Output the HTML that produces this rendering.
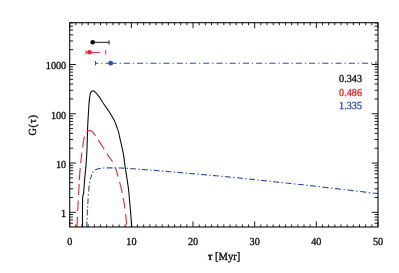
<!DOCTYPE html><html><head><meta charset="utf-8"><style>html,body{margin:0;padding:0;background:#fff;}svg{display:block;text-rendering:geometricPrecision;}.gfx{filter:blur(0.35px);}.tx{filter:blur(0.2px);}svg{font-family:"Liberation Serif",serif;}</style></head><body>
<svg width="399" height="273" viewBox="0 0 399 273">
<rect width="399" height="273" fill="#fff"/>
<g class="gfx"><g fill="none" stroke-linecap="butt" stroke-linejoin="round">
<path d="M82.50,227.00 L82.50,226.61 L82.50,226.17 L82.50,225.66 L82.50,225.10 L82.50,224.50 L82.50,223.85 L82.49,223.17 L82.49,222.44 L82.49,221.69 L82.49,220.92 L82.49,220.12 L82.49,219.31 L82.49,218.49 L82.49,217.66 L82.49,216.83 L82.49,216.00 L82.49,215.18 L82.49,214.37 L82.49,213.57 L82.49,212.80 L82.49,212.05 L82.49,211.33 L82.50,210.65 L82.50,210.00 L82.50,209.37 L82.51,208.75 L82.51,208.12 L82.51,207.50 L82.52,206.88 L82.52,206.26 L82.52,205.64 L82.53,205.04 L82.53,204.44 L82.53,203.84 L82.54,203.26 L82.54,202.69 L82.55,202.13 L82.56,201.58 L82.56,201.04 L82.57,200.52 L82.58,200.01 L82.60,199.52 L82.61,199.05 L82.62,198.60 L82.64,198.17 L82.66,197.76 L82.68,197.37 L82.70,197.00 L82.72,196.67 L82.75,196.38 L82.78,196.13 L82.81,195.92 L82.84,195.73 L82.87,195.58 L82.91,195.45 L82.94,195.33 L82.98,195.24 L83.02,195.15 L83.06,195.07 L83.10,195.00 L83.14,194.93 L83.18,194.85 L83.22,194.76 L83.27,194.67 L83.31,194.55 L83.35,194.42 L83.39,194.27 L83.44,194.08 L83.48,193.87 L83.52,193.62 L83.56,193.33 L83.60,193.00 L83.64,192.63 L83.68,192.24 L83.72,191.82 L83.76,191.38 L83.79,190.91 L83.83,190.43 L83.87,189.93 L83.91,189.41 L83.95,188.87 L83.99,188.32 L84.03,187.76 L84.07,187.19 L84.11,186.60 L84.15,186.01 L84.19,185.42 L84.23,184.81 L84.28,184.21 L84.32,183.60 L84.36,182.99 L84.41,182.39 L84.46,181.78 L84.50,181.18 L84.55,180.59 L84.60,180.00 L84.65,179.41 L84.70,178.81 L84.76,178.20 L84.82,177.58 L84.88,176.95 L84.94,176.32 L85.00,175.68 L85.06,175.04 L85.12,174.39 L85.19,173.74 L85.25,173.09 L85.31,172.44 L85.38,171.79 L85.44,171.14 L85.50,170.49 L85.56,169.85 L85.62,169.22 L85.68,168.59 L85.74,167.96 L85.80,167.35 L85.85,166.75 L85.90,166.15 L85.95,165.57 L86.00,165.00 L86.05,164.44 L86.09,163.90 L86.13,163.36 L86.17,162.84 L86.21,162.32 L86.25,161.81 L86.29,161.31 L86.32,160.81 L86.36,160.32 L86.39,159.84 L86.42,159.36 L86.46,158.88 L86.49,158.40 L86.52,157.92 L86.55,157.44 L86.58,156.96 L86.61,156.48 L86.64,156.00 L86.66,155.51 L86.69,155.02 L86.72,154.53 L86.75,154.03 L86.77,153.52 L86.80,153.00 L86.83,152.48 L86.85,151.95 L86.88,151.43 L86.90,150.90 L86.93,150.37 L86.95,149.84 L86.97,149.31 L86.99,148.78 L87.01,148.24 L87.03,147.70 L87.06,147.17 L87.07,146.62 L87.09,146.08 L87.11,145.54 L87.13,144.99 L87.15,144.44 L87.17,143.89 L87.19,143.34 L87.21,142.79 L87.23,142.24 L87.24,141.68 L87.26,141.12 L87.28,140.56 L87.30,140.00 L87.32,139.44 L87.34,138.87 L87.35,138.30 L87.37,137.72 L87.38,137.15 L87.40,136.57 L87.41,135.99 L87.43,135.41 L87.44,134.82 L87.45,134.24 L87.47,133.65 L87.48,133.06 L87.50,132.47 L87.51,131.88 L87.53,131.29 L87.54,130.70 L87.56,130.11 L87.57,129.52 L87.59,128.93 L87.61,128.34 L87.63,127.76 L87.65,127.17 L87.68,126.58 L87.70,126.00 L87.73,125.41 L87.75,124.82 L87.78,124.23 L87.81,123.63 L87.84,123.02 L87.87,122.42 L87.91,121.81 L87.94,121.20 L87.98,120.60 L88.01,119.99 L88.05,119.38 L88.08,118.78 L88.12,118.18 L88.15,117.59 L88.19,116.99 L88.23,116.41 L88.26,115.83 L88.30,115.25 L88.33,114.69 L88.37,114.13 L88.40,113.58 L88.44,113.04 L88.47,112.52 L88.50,112.00 L88.53,111.49 L88.56,110.99 L88.59,110.50 L88.62,110.01 L88.65,109.53 L88.67,109.05 L88.70,108.58 L88.73,108.12 L88.76,107.66 L88.78,107.21 L88.81,106.76 L88.84,106.33 L88.86,105.89 L88.89,105.46 L88.92,105.04 L88.95,104.63 L88.98,104.22 L89.01,103.81 L89.04,103.41 L89.07,103.02 L89.10,102.63 L89.13,102.25 L89.17,101.87 L89.20,101.50 L89.24,101.13 L89.27,100.77 L89.31,100.41 L89.35,100.06 L89.39,99.71 L89.42,99.36 L89.46,99.02 L89.50,98.69 L89.54,98.36 L89.59,98.03 L89.63,97.72 L89.67,97.41 L89.71,97.10 L89.75,96.81 L89.80,96.52 L89.84,96.24 L89.88,95.96 L89.93,95.70 L89.97,95.44 L90.02,95.20 L90.06,94.96 L90.11,94.73 L90.15,94.51 L90.20,94.30 L90.25,94.10 L90.29,93.92 L90.34,93.74 L90.39,93.58 L90.43,93.43 L90.48,93.28 L90.53,93.15 L90.58,93.03 L90.63,92.91 L90.68,92.80 L90.73,92.70 L90.77,92.60 L90.83,92.51 L90.88,92.42 L90.93,92.34 L90.98,92.26 L91.03,92.19 L91.08,92.12 L91.13,92.05 L91.19,91.98 L91.24,91.91 L91.29,91.84 L91.35,91.77 L91.40,91.70 L91.45,91.63 L91.51,91.57 L91.56,91.50 L91.61,91.44 L91.67,91.39 L91.72,91.34 L91.78,91.29 L91.83,91.24 L91.88,91.20 L91.94,91.16 L91.99,91.12 L92.05,91.09 L92.11,91.06 L92.16,91.03 L92.22,91.00 L92.28,90.98 L92.34,90.96 L92.40,90.95 L92.47,90.93 L92.53,90.92 L92.59,90.91 L92.66,90.90 L92.73,90.90 L92.80,90.90 L92.87,90.90 L92.94,90.90 L93.01,90.90 L93.08,90.91 L93.16,90.92 L93.23,90.92 L93.30,90.93 L93.38,90.95 L93.45,90.96 L93.53,90.98 L93.61,91.01 L93.69,91.03 L93.77,91.06 L93.85,91.09 L93.94,91.13 L94.02,91.17 L94.11,91.22 L94.20,91.27 L94.29,91.33 L94.39,91.39 L94.49,91.46 L94.59,91.53 L94.69,91.61 L94.80,91.70 L94.91,91.79 L95.03,91.90 L95.15,92.01 L95.28,92.14 L95.41,92.26 L95.54,92.40 L95.68,92.54 L95.82,92.69 L95.96,92.85 L96.11,93.00 L96.25,93.16 L96.40,93.33 L96.55,93.49 L96.69,93.65 L96.84,93.82 L96.98,93.99 L97.12,94.15 L97.26,94.31 L97.39,94.47 L97.52,94.63 L97.65,94.78 L97.77,94.92 L97.89,95.07 L98.00,95.20 L98.10,95.33 L98.20,95.44 L98.29,95.55 L98.37,95.66 L98.45,95.76 L98.53,95.85 L98.60,95.94 L98.66,96.03 L98.73,96.12 L98.79,96.20 L98.86,96.29 L98.92,96.38 L98.98,96.47 L99.05,96.57 L99.12,96.67 L99.19,96.78 L99.27,96.90 L99.35,97.02 L99.44,97.15 L99.54,97.30 L99.64,97.45 L99.75,97.62 L99.87,97.80 L100.00,98.00 L100.14,98.21 L100.29,98.44 L100.44,98.67 L100.60,98.92 L100.77,99.18 L100.94,99.45 L101.11,99.73 L101.30,100.01 L101.48,100.30 L101.67,100.60 L101.87,100.91 L102.06,101.22 L102.26,101.53 L102.46,101.85 L102.67,102.17 L102.87,102.49 L103.08,102.81 L103.28,103.13 L103.49,103.45 L103.69,103.77 L103.90,104.08 L104.10,104.39 L104.30,104.70 L104.50,105.00 L104.70,105.30 L104.90,105.60 L105.10,105.90 L105.31,106.19 L105.52,106.49 L105.73,106.79 L105.94,107.10 L106.15,107.40 L106.36,107.70 L106.57,108.00 L106.79,108.30 L107.00,108.61 L107.21,108.91 L107.43,109.21 L107.64,109.52 L107.85,109.83 L108.06,110.13 L108.27,110.44 L108.48,110.75 L108.69,111.06 L108.90,111.37 L109.10,111.68 L109.30,111.99 L109.50,112.30 L109.70,112.61 L109.90,112.93 L110.10,113.25 L110.30,113.58 L110.50,113.91 L110.71,114.24 L110.91,114.57 L111.11,114.90 L111.31,115.23 L111.51,115.57 L111.71,115.90 L111.91,116.23 L112.10,116.56 L112.29,116.89 L112.48,117.22 L112.67,117.54 L112.85,117.87 L113.03,118.19 L113.20,118.50 L113.37,118.81 L113.54,119.12 L113.70,119.42 L113.85,119.71 L114.00,120.00 L114.14,120.28 L114.28,120.56 L114.41,120.83 L114.54,121.10 L114.66,121.36 L114.78,121.62 L114.89,121.88 L115.00,122.13 L115.11,122.38 L115.21,122.63 L115.31,122.87 L115.41,123.11 L115.50,123.35 L115.60,123.59 L115.69,123.83 L115.78,124.07 L115.87,124.31 L115.96,124.55 L116.05,124.79 L116.14,125.03 L116.23,125.27 L116.32,125.51 L116.41,125.75 L116.50,126.00 L116.59,126.25 L116.69,126.49 L116.78,126.74 L116.87,126.98 L116.96,127.23 L117.05,127.47 L117.14,127.72 L117.23,127.96 L117.31,128.20 L117.40,128.45 L117.48,128.69 L117.57,128.93 L117.65,129.17 L117.73,129.42 L117.82,129.66 L117.90,129.91 L117.98,130.15 L118.05,130.40 L118.13,130.65 L118.21,130.89 L118.28,131.14 L118.36,131.39 L118.43,131.65 L118.50,131.90 L118.57,132.15 L118.63,132.38 L118.69,132.61 L118.75,132.83 L118.80,133.04 L118.85,133.25 L118.89,133.45 L118.94,133.65 L118.99,133.86 L119.03,134.06 L119.07,134.27 L119.12,134.49 L119.16,134.71 L119.21,134.95 L119.26,135.19 L119.31,135.45 L119.37,135.72 L119.43,136.01 L119.49,136.32 L119.56,136.65 L119.64,137.00 L119.72,137.37 L119.81,137.77 L119.90,138.20 L120.00,138.66 L120.11,139.15 L120.23,139.66 L120.36,140.21 L120.49,140.78 L120.63,141.37 L120.77,141.98 L120.91,142.60 L121.06,143.25 L121.22,143.90 L121.37,144.56 L121.53,145.24 L121.68,145.92 L121.84,146.60 L121.99,147.28 L122.14,147.96 L122.29,148.64 L122.44,149.31 L122.58,149.98 L122.71,150.63 L122.85,151.27 L122.97,151.90 L123.09,152.51 L123.20,153.10 L123.30,153.67 L123.40,154.22 L123.49,154.75 L123.57,155.27 L123.65,155.78 L123.72,156.28 L123.79,156.76 L123.86,157.25 L123.92,157.73 L123.99,158.21 L124.05,158.69 L124.11,159.17 L124.17,159.66 L124.23,160.15 L124.29,160.66 L124.35,161.17 L124.42,161.71 L124.49,162.25 L124.56,162.82 L124.64,163.40 L124.72,164.01 L124.81,164.65 L124.90,165.31 L125.00,166.00 L125.11,166.72 L125.22,167.48 L125.34,168.27 L125.47,169.09 L125.60,169.93 L125.74,170.80 L125.88,171.68 L126.02,172.59 L126.17,173.50 L126.32,174.43 L126.46,175.36 L126.61,176.31 L126.76,177.25 L126.91,178.19 L127.06,179.14 L127.20,180.07 L127.34,181.00 L127.48,181.91 L127.61,182.81 L127.74,183.70 L127.87,184.56 L127.98,185.40 L128.10,186.21 L128.20,187.00 L128.30,187.76 L128.39,188.48 L128.47,189.18 L128.55,189.86 L128.63,190.52 L128.70,191.16 L128.77,191.79 L128.84,192.41 L128.90,193.01 L128.96,193.62 L129.02,194.21 L129.08,194.81 L129.13,195.41 L129.19,196.02 L129.24,196.63 L129.30,197.26 L129.35,197.90 L129.41,198.55 L129.47,199.23 L129.53,199.93 L129.59,200.65 L129.66,201.40 L129.73,202.18 L129.80,203.00 L129.88,203.87 L129.96,204.80 L130.04,205.78 L130.13,206.81 L130.22,207.89 L130.32,209.00 L130.41,210.14 L130.51,211.30 L130.61,212.47 L130.71,213.65 L130.80,214.83 L130.90,216.00 L131.00,217.16 L131.09,218.30 L131.18,219.41 L131.27,220.48 L131.35,221.52 L131.43,222.50 L131.51,223.43 L131.58,224.30 L131.64,225.09 L131.70,225.81 L131.75,226.45 L131.80,227.00" stroke="#0c0c0c" stroke-width="1.1"/>
<path d="M77.02,226.60 L77.03,226.33 L77.04,225.93 L77.06,225.49 L77.08,225.01 L77.10,224.51 L77.13,223.97 L77.15,223.41 L77.17,222.82 L77.20,222.21 L77.22,221.58 L77.25,220.94 L77.28,220.28 L77.31,219.61 L77.33,218.94 L77.36,218.26 L77.39,217.58 L77.42,217.00 M77.70,211.00 L77.72,210.58 L77.75,209.97 L77.78,209.37 L77.82,208.76 L77.85,208.15 L77.88,207.54 L77.91,206.92 L77.95,206.31 L77.98,205.69 L78.02,205.07 L78.05,204.44 L78.08,203.82 L78.12,203.19 L78.15,202.55 L78.19,201.91 L78.22,201.27 L78.26,200.63 L78.27,200.50 M78.56,195.00 L78.58,194.54 L78.62,193.82 L78.65,193.10 L78.69,192.37 L78.73,191.64 L78.76,190.91 L78.80,190.17 L78.84,189.44 L78.88,188.70 L78.91,187.97 L78.95,187.24 L78.99,186.52 L79.03,185.80 L79.07,185.09 L79.10,184.38 L79.13,184.00 M79.36,180.00 L79.38,179.74 L79.41,179.12 L79.45,178.52 L79.49,177.93 L79.52,177.35 L79.56,176.77 L79.59,176.20 L79.63,175.64 L79.66,175.08 L79.70,174.52 L79.74,173.97 L79.78,173.41 L79.81,172.86 L79.85,172.30 L79.90,171.74 L79.94,171.18 L79.98,170.61 L80.03,170.03 L80.08,169.44 L80.13,168.85 L80.18,168.24 L80.21,168.00 M80.70,163.00 L80.70,162.98 L80.78,162.28 L80.86,161.57 L80.93,160.86 L81.01,160.15 L81.09,159.43 L81.18,158.72 L81.26,158.00 L81.34,157.29 L81.43,156.58 L81.51,155.87 L81.60,155.17 L81.68,154.47 L81.77,153.78 L81.86,153.11 L81.93,152.50 M82.61,147.50 L82.64,147.35 L82.72,146.71 L82.81,146.09 L82.90,145.46 L82.99,144.84 L83.09,144.23 L83.18,143.63 L83.27,143.03 L83.36,142.45 L83.45,141.87 L83.55,141.31 L83.64,140.76 L83.73,140.23 L83.83,139.71 L83.92,139.21 L84.02,138.72 L84.11,138.26 L84.21,137.82 L84.30,137.40 L84.40,137.00 L84.50,136.63 L84.53,136.50 M86.60,132.26 L86.70,132.13 L86.80,132.00 L86.90,131.87 L87.01,131.74 L87.12,131.63 L87.22,131.52 L87.33,131.41 L87.44,131.32 L87.54,131.23 L87.65,131.14 L87.76,131.07 L87.87,131.00 L87.98,130.93 L88.09,130.87 L88.20,130.81 L88.31,130.76 L88.42,130.72 L88.53,130.68 L88.64,130.64 L88.75,130.61 L88.85,130.58 L88.96,130.56 L89.07,130.54 L89.18,130.52 L89.29,130.51 L89.40,130.50 L89.51,130.49 L89.62,130.50 L89.73,130.50 L89.84,130.52 L89.95,130.54 L90.06,130.56 L90.17,130.59 L90.28,130.62 L90.39,130.66 L90.50,130.70 L90.61,130.75 L90.72,130.80 L90.83,130.85 L90.94,130.91 L91.05,130.97 L91.16,131.03 L91.26,131.10 L91.37,131.17 L91.48,131.23 L91.58,131.31 L91.69,131.38 L91.79,131.45 L91.90,131.53 L92.00,131.60 L92.10,131.67 L92.19,131.74 L92.27,131.79 L92.35,131.85 L92.42,131.90 L92.50,131.95 L92.56,132.00 L92.63,132.06 L92.70,132.11 L92.76,132.17 L92.83,132.23 L92.90,132.30 L92.97,132.38 L93.05,132.46 L93.14,132.56 L93.23,132.67 L93.32,132.79 L93.43,132.92 L93.55,133.07 L93.67,133.24 L93.81,133.42 L93.96,133.63 L94.12,133.85 L94.30,134.10 L94.49,134.37 L94.70,134.66 L94.92,134.98 L95.15,135.31 L95.39,135.67 L95.50,135.82 M98.20,139.86 L98.24,139.92 L98.54,140.38 L98.85,140.85 L99.15,141.31 L99.45,141.77 L99.75,142.23 L100.05,142.68 L100.34,143.13 L100.62,143.57 L100.90,144.00 L101.18,144.43 L101.46,144.86 L101.74,145.31 L102.02,145.75 L102.30,146.21 L102.59,146.66 L102.87,147.12 L103.16,147.58 L103.45,148.04 L103.73,148.50 L104.02,148.96 L104.20,149.26 M107.00,153.73 L107.01,153.74 L107.26,154.13 L107.50,154.50 L107.74,154.86 L107.98,155.22 L108.22,155.57 L108.45,155.91 L108.68,156.24 L108.91,156.56 L109.14,156.88 L109.37,157.20 L109.59,157.50 L109.81,157.80 L110.02,158.10 L110.24,158.39 L110.45,158.68 L110.65,158.97 L110.86,159.25 L111.06,159.53 L111.25,159.80 L111.44,160.08 L111.63,160.35 L111.81,160.62 L111.99,160.89 L112.17,161.16 L112.34,161.43 L112.50,161.70 M115.11,167.00 L115.18,167.18 L115.30,167.50 L115.42,167.83 L115.54,168.17 L115.66,168.52 L115.78,168.88 L115.91,169.25 L116.03,169.63 L116.15,170.01 L116.27,170.40 L116.40,170.80 L116.52,171.21 L116.64,171.62 L116.77,172.04 L116.89,172.46 L117.02,172.89 L117.14,173.32 L117.27,173.76 L117.40,174.21 L117.52,174.65 L117.65,175.10 L117.78,175.56 L117.91,176.01 L118.04,176.47 L118.05,176.50 M119.58,182.00 L119.72,182.50 L119.87,183.04 L120.01,183.58 L120.16,184.12 L120.30,184.66 L120.44,185.20 L120.59,185.74 L120.72,186.27 L120.86,186.80 L120.99,187.32 L121.12,187.83 L121.25,188.34 L121.37,188.84 L121.49,189.32 L121.60,189.80 L121.71,190.27 L121.81,190.72 L121.91,191.17 L122.01,191.62 L122.11,192.05 L122.20,192.49 L122.29,192.91 L122.31,193.00 M123.26,198.00 L123.30,198.28 L123.38,198.70 L123.45,199.13 L123.53,199.56 L123.60,200.00 L123.67,200.44 L123.75,200.87 L123.82,201.30 L123.89,201.73 L123.96,202.15 L124.02,202.58 L124.09,203.00 L124.16,203.42 L124.22,203.85 L124.28,204.27 L124.35,204.70 L124.41,205.14 L124.48,205.58 L124.54,206.02 L124.60,206.47 L124.67,206.93 L124.73,207.40 L124.80,207.88 L124.86,208.37 L124.88,208.50 M125.56,214.00 L125.59,214.28 L125.68,215.02 L125.76,215.78 L125.85,216.56 L125.94,217.34 L126.03,218.12 L126.11,218.91 L126.20,219.69 L126.28,220.46 L126.37,221.21 L126.45,221.95 L126.53,222.67 L126.60,223.35 L126.67,224.01 L126.74,224.60" stroke="#e9262c" stroke-width="1.1"/>
<path d="M86.70,227.00 L86.72,226.62 L86.74,226.18 L86.76,225.69 L86.78,225.15 L86.81,224.57 L86.84,223.94 L86.87,223.28 L86.90,222.59 L86.93,221.87 L86.95,221.50 M87.23,215.50 L87.23,215.46 L87.27,214.64 L87.31,213.83 L87.35,213.02 L87.38,212.24 L87.42,211.47 L87.46,210.72 L87.50,210.00 L87.53,209.50 M87.82,204.00 L87.86,203.31 L87.90,202.56 L87.94,201.80 L87.99,201.06 L88.03,200.32 L88.07,199.58 L88.12,198.86 L88.14,198.50 M88.63,191.50 L88.67,191.08 L88.71,190.62 L88.75,190.18 L88.79,189.75 L88.84,189.34 L88.88,188.94 L88.92,188.55 L88.96,188.17 L89.01,187.81 L89.05,187.45 L89.09,187.11 L89.13,186.77 L89.17,186.44 L89.22,186.12 L89.26,185.80 L89.30,185.50 M90.28,179.50 L90.30,179.40 L90.35,179.20 L90.40,179.00 L90.45,178.79 L90.51,178.59 L90.57,178.37 L90.63,178.16 L90.70,177.95 L90.76,177.73 L90.83,177.51 L90.90,177.30 L90.97,177.08 L91.04,176.86 L91.11,176.65 L91.19,176.44 L91.26,176.23 L91.33,176.02 L91.41,175.82 L91.48,175.61 L91.55,175.42 L91.62,175.23 L91.69,175.04 L91.75,174.86 L91.82,174.68 L91.88,174.52 L91.89,174.50 M87.04,219.40 L87.07,218.75 L87.11,218.00 M87.63,207.50 L87.66,207.09 L87.70,206.34 L87.71,206.10 M88.32,195.70 L88.33,195.46 L88.37,194.84 L88.41,194.30 M89.61,183.19 L89.61,183.18 L89.65,182.93 L89.68,182.69 L89.72,182.46 L89.75,182.24 L89.78,182.02 L89.81,181.82 L89.82,181.81 M92.49,172.87 L92.51,172.83 L92.55,172.74 L92.59,172.65 L92.63,172.57 L92.67,172.48 L92.71,172.40 L92.76,172.32 L92.81,172.23 L92.86,172.15 L92.91,172.06 L92.97,171.98 L93.03,171.89 L93.10,171.80 L93.17,171.71 L93.20,171.67 M95.00,169.94 L95.14,169.87 L95.30,169.80 L95.47,169.73 L95.65,169.65 L95.85,169.58 L96.05,169.50 L96.26,169.43 L96.48,169.35 L96.71,169.28 L96.95,169.21 L97.19,169.13 L97.44,169.06 L97.69,168.99 L97.94,168.92 L98.20,168.85 L98.46,168.79 L98.72,168.72 L98.99,168.66 L99.25,168.60 L99.51,168.54 L99.77,168.49 L100.02,168.43 L100.27,168.38 L100.52,168.34 L100.64,168.31 M102.99,168.02 L103.06,168.02 L103.28,168.00 L103.51,167.99 L103.73,167.98 L103.96,167.97 L104.18,167.96 L104.39,167.95 M106.75,167.89 L106.96,167.89 L107.19,167.88 L107.40,167.88 L107.61,167.87 L107.82,167.87 L108.03,167.87 L108.24,167.86 L108.45,167.86 L108.66,167.86 L108.88,167.86 L109.09,167.86 L109.32,167.86 L109.55,167.86 L109.79,167.86 L110.04,167.86 L110.30,167.87 L110.57,167.87 L110.85,167.87 L111.15,167.88 L111.46,167.88 L111.79,167.89 L112.13,167.89 L112.50,167.90 L112.51,167.90 M114.81,167.94 L115.09,167.94 L115.58,167.95 L116.07,167.96 L116.21,167.96 M118.50,168.01 L118.69,168.01 L119.23,168.02 L119.77,168.04 L120.31,168.05 L120.86,168.07 L121.39,168.08 L121.93,168.10 L122.46,168.12 L122.98,168.14 L123.50,168.16 L124.00,168.18 L124.27,168.19 M126.57,168.31 L126.72,168.32 L127.13,168.34 L127.53,168.37 L127.93,168.39 L127.96,168.40 M130.26,168.56 L130.38,168.57 L130.83,168.60 L131.30,168.64 L131.78,168.68 L132.29,168.72 L132.83,168.76 L133.39,168.80 L133.99,168.85 L134.62,168.90 L135.29,168.95 L136.00,169.00 L136.03,169.00 M138.33,169.17 L139.08,169.23 L139.72,169.27 M142.03,169.44 L142.50,169.48 L143.41,169.54 L144.33,169.61 L145.28,169.68 L146.25,169.76 L147.24,169.83 L147.80,169.87 M150.11,170.05 L150.33,170.07 L151.41,170.15 L151.50,170.16 M153.81,170.34 L154.75,170.41 L155.91,170.51 L157.08,170.60 L158.28,170.70 L159.50,170.80 L159.59,170.81 M161.90,171.00 L162.03,171.01 L163.30,171.12 M165.61,171.31 L166.05,171.35 L167.44,171.47 L168.86,171.59 L170.31,171.72 L171.40,171.81 M173.72,172.01 L174.75,172.10 L175.11,172.14 M177.43,172.34 L177.80,172.37 L179.34,172.51 L180.89,172.64 L182.45,172.78 L183.23,172.85 M185.55,173.06 L185.58,173.06 L186.95,173.18 M189.27,173.39 L190.30,173.48 L191.87,173.62 L193.44,173.76 L195.00,173.90 L195.09,173.91 M197.42,174.12 L198.15,174.18 L198.82,174.24 M201.15,174.45 L201.36,174.47 L202.98,174.61 L204.62,174.76 L206.27,174.91 L206.98,174.97 M209.32,175.18 L209.58,175.20 L210.71,175.31 M213.05,175.52 L214.58,175.66 L216.25,175.81 L217.92,175.96 L218.91,176.05 M221.26,176.27 L222.65,176.40 M225.00,176.62 L226.19,176.73 L227.82,176.88 L229.44,177.04 L230.87,177.18 M233.23,177.41 L234.20,177.50 L234.63,177.54 M236.99,177.78 L237.29,177.81 L238.81,177.96 L240.32,178.12 L241.82,178.27 L242.88,178.38 M245.25,178.63 L246.26,178.74 L246.65,178.78 M249.02,179.03 L249.19,179.05 L250.64,179.21 L252.10,179.36 L253.56,179.52 L254.94,179.67 M257.32,179.93 L257.94,180.00 L258.71,180.08 M261.10,180.34 L262.38,180.48 L263.88,180.64 L265.39,180.80 L266.91,180.97 L267.05,180.98 M269.44,181.24 L270.00,181.30 L270.84,181.39 M273.24,181.64 L274.76,181.81 L276.38,181.98 L278.00,182.15 L279.21,182.28 M281.62,182.53 L282.94,182.67 L283.02,182.68 M285.43,182.93 L286.26,183.02 L287.93,183.20 L289.60,183.38 L291.27,183.55 L291.44,183.57 M293.87,183.83 L294.60,183.91 L295.26,183.98 M297.69,184.24 L297.91,184.26 L299.56,184.44 L301.20,184.62 L302.82,184.80 L303.73,184.89 M306.18,185.16 L307.57,185.32 M310.01,185.59 L310.76,185.68 L312.31,185.85 L313.86,186.03 L315.40,186.20 L316.09,186.28 M318.55,186.57 L319.95,186.73 M322.41,187.02 L323.00,187.09 L324.50,187.27 L326.00,187.44 L327.49,187.62 L328.52,187.74 M331.01,188.04 L331.93,188.15 L332.40,188.20 M334.88,188.50 L336.33,188.67 L337.78,188.84 L339.23,189.02 L340.68,189.19 L341.04,189.23 M343.54,189.53 L343.56,189.53 L344.93,189.69 M347.44,189.99 L347.95,190.05 L349.48,190.23 L351.04,190.41 L352.62,190.60 L353.64,190.72 M356.16,191.02 L357.43,191.17 L357.55,191.18 M360.08,191.48 L360.62,191.54 L362.19,191.73 L363.74,191.91 L365.25,192.09 L366.32,192.22 M368.87,192.52 L369.55,192.60 L370.26,192.68 M372.82,192.99 L373.33,193.05 L374.44,193.18 L375.47,193.30 L376.41,193.41 L377.26,193.51 L378.00,193.60 " stroke="#2b4ea6" stroke-width="1.1"/>
<path d="M92.7,42.3 H109 M109,40.3 V44.5" stroke="#0c0c0c" stroke-width="0.95"/>
<circle cx="92.7" cy="42.2" r="2.3" fill="#0c0c0c" stroke="none"/>
<path d="M86,52.4 H99.8 M86,50.4 V54.4 M105.7,50.1 V54.6" stroke="#e9262c" stroke-width="0.95"/>
<circle cx="89.5" cy="52.3" r="2.3" fill="#e9262c" stroke="none"/>
<path d="M110.6,63.25 H376.3" stroke="#2b4ea6" stroke-width="1.1" stroke-dasharray="6.1,2.93,1.3,2.9"/>
<path d="M110.6,63.25 H95.5" stroke="#2b4ea6" stroke-width="1.1" stroke-dasharray="6.1,2.93,1.3,2.9" stroke-dashoffset="1"/>
<path d="M95.5,61 V65.5 M376,61.2 V64.9" stroke="#2b4ea6" stroke-width="0.95"/>
<circle cx="110.7" cy="63.2" r="2.4" fill="#2b4ea6" stroke="none"/>
</g>
<g stroke="#0c0c0c" fill="none">
<rect x="69.7" y="22.7" width="308.3" height="204.3" stroke-width="1.1"/>
<path d="M69.70,227.0 v-5.5 M69.70,22.7 v5.5 M75.87,227.0 v-2.5 M75.87,22.7 v2.5 M82.03,227.0 v-2.5 M82.03,22.7 v2.5 M88.20,227.0 v-2.5 M88.20,22.7 v2.5 M94.36,227.0 v-2.5 M94.36,22.7 v2.5 M100.53,227.0 v-2.5 M100.53,22.7 v2.5 M106.70,227.0 v-2.5 M106.70,22.7 v2.5 M112.86,227.0 v-2.5 M112.86,22.7 v2.5 M119.03,227.0 v-2.5 M119.03,22.7 v2.5 M125.19,227.0 v-2.5 M125.19,22.7 v2.5 M131.36,227.0 v-5.5 M131.36,22.7 v5.5 M137.53,227.0 v-2.5 M137.53,22.7 v2.5 M143.69,227.0 v-2.5 M143.69,22.7 v2.5 M149.86,227.0 v-2.5 M149.86,22.7 v2.5 M156.02,227.0 v-2.5 M156.02,22.7 v2.5 M162.19,227.0 v-2.5 M162.19,22.7 v2.5 M168.36,227.0 v-2.5 M168.36,22.7 v2.5 M174.52,227.0 v-2.5 M174.52,22.7 v2.5 M180.69,227.0 v-2.5 M180.69,22.7 v2.5 M186.85,227.0 v-2.5 M186.85,22.7 v2.5 M193.02,227.0 v-5.5 M193.02,22.7 v5.5 M199.19,227.0 v-2.5 M199.19,22.7 v2.5 M205.35,227.0 v-2.5 M205.35,22.7 v2.5 M211.52,227.0 v-2.5 M211.52,22.7 v2.5 M217.68,227.0 v-2.5 M217.68,22.7 v2.5 M223.85,227.0 v-2.5 M223.85,22.7 v2.5 M230.02,227.0 v-2.5 M230.02,22.7 v2.5 M236.18,227.0 v-2.5 M236.18,22.7 v2.5 M242.35,227.0 v-2.5 M242.35,22.7 v2.5 M248.51,227.0 v-2.5 M248.51,22.7 v2.5 M254.68,227.0 v-5.5 M254.68,22.7 v5.5 M260.85,227.0 v-2.5 M260.85,22.7 v2.5 M267.01,227.0 v-2.5 M267.01,22.7 v2.5 M273.18,227.0 v-2.5 M273.18,22.7 v2.5 M279.34,227.0 v-2.5 M279.34,22.7 v2.5 M285.51,227.0 v-2.5 M285.51,22.7 v2.5 M291.68,227.0 v-2.5 M291.68,22.7 v2.5 M297.84,227.0 v-2.5 M297.84,22.7 v2.5 M304.01,227.0 v-2.5 M304.01,22.7 v2.5 M310.17,227.0 v-2.5 M310.17,22.7 v2.5 M316.34,227.0 v-5.5 M316.34,22.7 v5.5 M322.51,227.0 v-2.5 M322.51,22.7 v2.5 M328.67,227.0 v-2.5 M328.67,22.7 v2.5 M334.84,227.0 v-2.5 M334.84,22.7 v2.5 M341.00,227.0 v-2.5 M341.00,22.7 v2.5 M347.17,227.0 v-2.5 M347.17,22.7 v2.5 M353.34,227.0 v-2.5 M353.34,22.7 v2.5 M359.50,227.0 v-2.5 M359.50,22.7 v2.5 M365.67,227.0 v-2.5 M365.67,22.7 v2.5 M371.83,227.0 v-2.5 M371.83,22.7 v2.5 M378.00,227.0 v-5.5 M378.00,22.7 v5.5 M69.7,212.31 h6.2 M378.0,212.31 h-6.2 M69.7,197.48 h3.4 M378.0,197.48 h-3.4 M69.7,188.80 h3.4 M378.0,188.80 h-3.4 M69.7,182.65 h3.4 M378.0,182.65 h-3.4 M69.7,177.87 h3.4 M378.0,177.87 h-3.4 M69.7,173.97 h3.4 M378.0,173.97 h-3.4 M69.7,170.67 h3.4 M378.0,170.67 h-3.4 M69.7,167.81 h3.4 M378.0,167.81 h-3.4 M69.7,165.29 h3.4 M378.0,165.29 h-3.4 M69.7,163.04 h6.2 M378.0,163.04 h-6.2 M69.7,148.21 h3.4 M378.0,148.21 h-3.4 M69.7,139.53 h3.4 M378.0,139.53 h-3.4 M69.7,133.38 h3.4 M378.0,133.38 h-3.4 M69.7,128.60 h3.4 M378.0,128.60 h-3.4 M69.7,124.70 h3.4 M378.0,124.70 h-3.4 M69.7,121.40 h3.4 M378.0,121.40 h-3.4 M69.7,118.54 h3.4 M378.0,118.54 h-3.4 M69.7,116.02 h3.4 M378.0,116.02 h-3.4 M69.7,113.77 h6.2 M378.0,113.77 h-6.2 M69.7,98.94 h3.4 M378.0,98.94 h-3.4 M69.7,90.26 h3.4 M378.0,90.26 h-3.4 M69.7,84.11 h3.4 M378.0,84.11 h-3.4 M69.7,79.33 h3.4 M378.0,79.33 h-3.4 M69.7,75.43 h3.4 M378.0,75.43 h-3.4 M69.7,72.13 h3.4 M378.0,72.13 h-3.4 M69.7,69.27 h3.4 M378.0,69.27 h-3.4 M69.7,66.75 h3.4 M378.0,66.75 h-3.4 M69.7,64.50 h6.2 M378.0,64.50 h-6.2 M69.7,49.67 h3.4 M378.0,49.67 h-3.4 M69.7,40.99 h3.4 M378.0,40.99 h-3.4 M69.7,34.84 h3.4 M378.0,34.84 h-3.4 M69.7,30.06 h3.4 M378.0,30.06 h-3.4 M69.7,26.16 h3.4 M378.0,26.16 h-3.4 M69.7,22.86 h3.4 M378.0,22.86 h-3.4 M69.7,223.24 h3.4 M378.0,223.24 h-3.4 M69.7,219.94 h3.4 M378.0,219.94 h-3.4 M69.7,217.08 h3.4 M378.0,217.08 h-3.4 M69.7,214.56 h3.4 M378.0,214.56 h-3.4" stroke-width="0.95"/>
</g></g>
<g class="tx" stroke-width="0.32">
<text transform="translate(66.2,69.4)  scale(1,1.06)" text-anchor="end" font-size="10.2" fill="#0c0c0c" stroke="#0c0c0c">1000</text>
<text transform="translate(66.2,118.7)  scale(1,1.06)" text-anchor="end" font-size="10.2" fill="#0c0c0c" stroke="#0c0c0c">100</text>
<text transform="translate(66.2,167.9)  scale(1,1.06)" text-anchor="end" font-size="10.2" fill="#0c0c0c" stroke="#0c0c0c">10</text>
<text transform="translate(66.2,217.2)  scale(1,1.06)" text-anchor="end" font-size="10.2" fill="#0c0c0c" stroke="#0c0c0c">1</text>
<text transform="translate(69.7,244.9)  scale(1,1.06)" text-anchor="middle" font-size="10.2" fill="#0c0c0c" stroke="#0c0c0c">0</text>
<text transform="translate(131.4,244.9)  scale(1,1.06)" text-anchor="middle" font-size="10.2" fill="#0c0c0c" stroke="#0c0c0c">10</text>
<text transform="translate(193.0,244.9)  scale(1,1.06)" text-anchor="middle" font-size="10.2" fill="#0c0c0c" stroke="#0c0c0c">20</text>
<text transform="translate(254.7,244.9)  scale(1,1.06)" text-anchor="middle" font-size="10.2" fill="#0c0c0c" stroke="#0c0c0c">30</text>
<text transform="translate(316.3,244.9)  scale(1,1.06)" text-anchor="middle" font-size="10.2" fill="#0c0c0c" stroke="#0c0c0c">40</text>
<text transform="translate(378.0,244.9)  scale(1,1.06)" text-anchor="middle" font-size="10.2" fill="#0c0c0c" stroke="#0c0c0c">50</text>
<text transform="translate(224.0,260.2)  scale(1,1.06)" text-anchor="middle" font-size="10.6" fill="#0c0c0c" stroke="#0c0c0c"><tspan font-style="italic" font-weight="bold">τ</tspan> [Myr]</text>
<text transform="translate(35.5,125.0) rotate(-90) scale(1,1.06)" text-anchor="middle" font-size="10.3" fill="#0c0c0c" stroke="#0c0c0c"><tspan letter-spacing="0.65">G(τ)</tspan></text>
<text transform="translate(362.0,82.0)  scale(1,1.06)" text-anchor="end" font-size="10.2" fill="#0c0c0c" stroke="#0c0c0c">0.343</text>
<text transform="translate(362.0,95.7)  scale(1,1.06)" text-anchor="end" font-size="10.2" fill="#e9262c" stroke="#e9262c">0.486</text>
<text transform="translate(362.0,109.4)  scale(1,1.06)" text-anchor="end" font-size="10.2" fill="#2b4ea6" stroke="#2b4ea6">1.335</text>
</g>
</svg></body></html>
